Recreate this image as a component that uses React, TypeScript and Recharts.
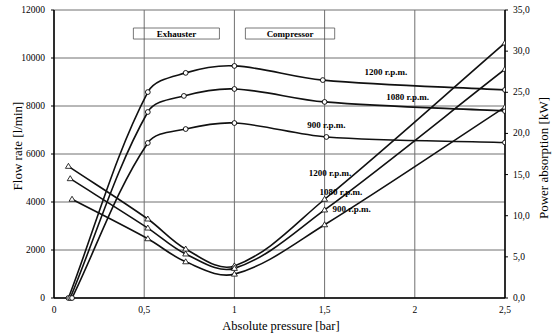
import React from 'react';
import {
  LineChart,
  Line,
  XAxis,
  YAxis,
  CartesianGrid,
  ReferenceArea,
  ReferenceDot,
  Label,
} from 'recharts';

// ---- tick values ----
const pressureTicks = [0, 0.5, 1, 1.5, 2, 2.5];
const flowTicks = [0, 2000, 4000, 6000, 8000, 10000, 12000];
const powerTicks = [0, 5, 10, 15, 20, 25, 30, 35];

// ---- flow rate [l/min] (circles, left axis) ----
const flowPressure1200 = [0.08, 0.52, 0.73, 1.0, 1.49, 2.5];
const flow1200 = [0, 8580, 9380, 9670, 9080, 8670];
const flowPressure1080 = [0.09, 0.52, 0.72, 1.0, 1.5, 2.5];
const flow1080 = [0, 7750, 8420, 8710, 8170, 7790];
const flowPressure900 = [0.1, 0.52, 0.73, 1.0, 1.51, 2.5];
const flow900 = [0, 6460, 7040, 7290, 6710, 6480];

// ---- power absorption [kW] (triangles, right axis) ----
const powerPressure1200 = [0.08, 0.52, 0.73, 1.0, 1.5, 2.5];
const power1200 = [16.0, 9.6, 5.95, 3.9, 12.0, 31.0];
const powerPressure1080 = [0.09, 0.52, 0.73, 1.0, 1.5, 2.5];
const power1080 = [14.5, 8.5, 5.35, 3.6, 10.7, 27.8];
const powerPressure900 = [0.1, 0.52, 0.73, 1.0, 1.5, 2.5];
const power900 = [12.0, 7.2, 4.4, 2.9, 8.9, 23.2];

// ---- annotations ----
const speedLabels = ['1200 r.p.m.', '1080 r.p.m.', '900 r.p.m.'];
const flowLabelX = [1.84, 1.96, 1.51];
const flowLabelY = [9420, 8380, 7210];
const powerLabelX = [1.53, 1.59, 1.65];
const powerLabelY = [5210, 4420, 3710];
const regionNames = ['Exhauster', 'Compressor'];
const regionX1 = [0.44, 1.061];
const regionX2 = [0.917, 1.556];
const regionY1 = [10790, 10790];
const regionY2 = [11250, 11250];

const FONT = '"Liberation Serif", "Times New Roman", serif';

const zip = (xs: number[], ys: number[]) => xs.map((x, i) => ({ x, y: ys[i] }));

// Excel-like smoothed line (chord-scaled Catmull-Rom Bezier)
const excelSmooth = (context: any) => {
  let pts: number[][] = [];
  const norm = (a: number[], b: number[]) => {
    const dx = b[0] - a[0];
    const dy = b[1] - a[1];
    const l = Math.hypot(dx, dy) || 1;
    return [dx / l, dy / l];
  };
  return {
    areaStart() {},
    areaEnd() {},
    lineStart() {
      pts = [];
    },
    point(x: number, y: number) {
      pts.push([+x, +y]);
    },
    lineEnd() {
      const n = pts.length;
      if (!n) return;
      context.moveTo(pts[0][0], pts[0][1]);
      for (let i = 0; i < n - 1; i++) {
        const p0 = pts[i - 1] || pts[i];
        const p1 = pts[i];
        const p2 = pts[i + 1];
        const p3 = pts[i + 2] || pts[i + 1];
        const d = Math.hypot(p2[0] - p1[0], p2[1] - p1[1]) / 3;
        const t1 = norm(p0, p2);
        const t2 = norm(p1, p3);
        context.bezierCurveTo(
          p1[0] + t1[0] * d,
          p1[1] + t1[1] * d,
          p2[0] - t2[0] * d,
          p2[1] - t2[1] * d,
          p2[0],
          p2[1]
        );
      }
    },
  };
};

const CircleDot = (props: any) => {
  const { cx, cy, index } = props;
  if (cx == null || cy == null) return <g key={`c${index}`} />;
  return <circle key={`c${index}`} cx={cx} cy={cy} r={2.4} fill="#fff" stroke="#000" strokeWidth={0.9} />;
};

const TriangleDot = (props: any) => {
  const { cx, cy, index } = props;
  if (cx == null || cy == null) return <g key={`t${index}`} />;
  const d = `M${cx},${cy - 3} L${cx + 3},${cy + 2} L${cx - 3},${cy + 2} Z`;
  return <path key={`t${index}`} d={d} fill="#fff" stroke="#000" strokeWidth={0.8} />;
};

const commaFmt = (v: number) => String(v).replace('.', ',');
const commaFmt1 = (v: number) => v.toFixed(1).replace('.', ',');

const XTick = (props: any) => {
  const { x, y, payload } = props;
  return (
    <text x={x} y={y + 6} textAnchor="middle" fontSize={9.5} fontFamily={FONT} fill="#000">
      {commaFmt(payload.value)}
    </text>
  );
};
const LeftTick = (props: any) => {
  const { x, y, payload } = props;
  return (
    <text x={x} y={y + 3} textAnchor="end" fontSize={9.5} fontFamily={FONT} fill="#000">
      {String(payload.value)}
    </text>
  );
};
const RightTick = (props: any) => {
  const { x, y, payload } = props;
  return (
    <text x={x} y={y + 3} textAnchor="start" fontSize={9.5} fontFamily={FONT} fill="#000">
      {commaFmt1(payload.value)}
    </text>
  );
};

const annotStyle = {
  fontSize: 9,
  fontWeight: 'bold' as const,
  fill: '#000',
  fontFamily: FONT,
  style: { fontFamily: FONT },
};

const flowSeries = [
  { key: 'f1200', data: zip(flowPressure1200, flow1200) },
  { key: 'f1080', data: zip(flowPressure1080, flow1080) },
  { key: 'f900', data: zip(flowPressure900, flow900) },
];
const powerSeries = [
  { key: 'p1200', data: zip(powerPressure1200, power1200) },
  { key: 'p1080', data: zip(powerPressure1080, power1080) },
  { key: 'p900', data: zip(powerPressure900, power900) },
];

export default function App() {
  return (
    <div style={{ position: 'absolute', left: 0, top: 0, width: 558, height: 336, fontFamily: FONT, background: '#fff' }}>
      <LineChart
        width={558}
        height={336}
        margin={{ top: 10, right: 0, bottom: 0, left: 0 }}
        style={{ fontFamily: FONT }}
      >
        <CartesianGrid stroke="#707070" strokeWidth={1} yAxisId="left" />
        <XAxis
          type="number"
          dataKey="x"
          domain={[0, 2.5]}
          ticks={pressureTicks}
          tick={<XTick />}
          tickLine={false}
          tickSize={0}
          tickMargin={9}
          axisLine={{ stroke: '#000', strokeWidth: 1.5 }}
          height={38}
          allowDataOverflow
        >
          <Label
            content={() => (
              <text x={281} y={330} textAnchor="middle" fontSize={12.5} fontFamily={FONT} fill="#000">
                Absolute pressure [bar]
              </text>
            )}
          />
        </XAxis>
        <YAxis
          yAxisId="left"
          type="number"
          domain={[0, 12000]}
          ticks={flowTicks}
          tick={<LeftTick />}
          tickSize={3}
          tickMargin={6}
          tickLine={{ stroke: '#000' }}
          axisLine={{ stroke: '#000', strokeWidth: 1.5 }}
          width={54}
        >
          <Label
            content={() => (
              <text
                x={22}
                y={146}
                textAnchor="middle"
                fontSize={13}
                fontFamily={FONT}
                fill="#000"
                transform="rotate(-90 22 146)"
              >
                Flow rate [l/min]
              </text>
            )}
          />
        </YAxis>
        <YAxis
          yAxisId="right"
          orientation="right"
          type="number"
          domain={[0, 35]}
          ticks={powerTicks}
          tick={<RightTick />}
          tickSize={3}
          tickMargin={5}
          tickLine={{ stroke: '#000' }}
          axisLine={{ stroke: '#000', strokeWidth: 1.5 }}
          width={53}
        >
          <Label
            content={() => (
              <text
                x={548}
                y={158}
                textAnchor="middle"
                fontSize={13}
                fontFamily={FONT}
                fill="#000"
                transform="rotate(-90 548 158)"
              >
                Power absorption [kW]
              </text>
            )}
          />
        </YAxis>

        {regionNames.map((name, i) => (
          <ReferenceArea
            key={name}
            yAxisId="left"
            x1={regionX1[i]}
            x2={regionX2[i]}
            y1={regionY1[i]}
            y2={regionY2[i]}
            fill="none"
            fillOpacity={0}
            stroke="#555"
            strokeWidth={0.8}
            label={{ value: name, position: 'center', ...annotStyle }}
            ifOverflow="visible"
          />
        ))}

        {flowSeries.map((s) => (
          <Line
            key={s.key}
            yAxisId="left"
            data={s.data}
            dataKey="y"
            type={excelSmooth as any}
            stroke="#111"
            strokeWidth={1.6}
            dot={CircleDot}
            activeDot={false}
            isAnimationActive={false}
          />
        ))}
        {powerSeries.map((s) => (
          <Line
            key={s.key}
            yAxisId="right"
            data={s.data}
            dataKey="y"
            type={excelSmooth as any}
            stroke="#111"
            strokeWidth={1.6}
            dot={TriangleDot}
            activeDot={false}
            isAnimationActive={false}
          />
        ))}

        {speedLabels.map((t, i) => (
          <ReferenceDot
            key={`fl${i}`}
            yAxisId="left"
            x={flowLabelX[i]}
            y={flowLabelY[i]}
            r={0}
            fill="none"
            stroke="none"
            label={{ value: t, position: 'center', ...annotStyle }}
            ifOverflow="visible"
          />
        ))}
        {speedLabels.map((t, i) => (
          <ReferenceDot
            key={`pl${i}`}
            yAxisId="left"
            x={powerLabelX[i]}
            y={powerLabelY[i]}
            r={0}
            fill="none"
            stroke="none"
            label={{ value: t, position: 'center', ...annotStyle }}
            ifOverflow="visible"
          />
        ))}
      </LineChart>
    </div>
  );
}
